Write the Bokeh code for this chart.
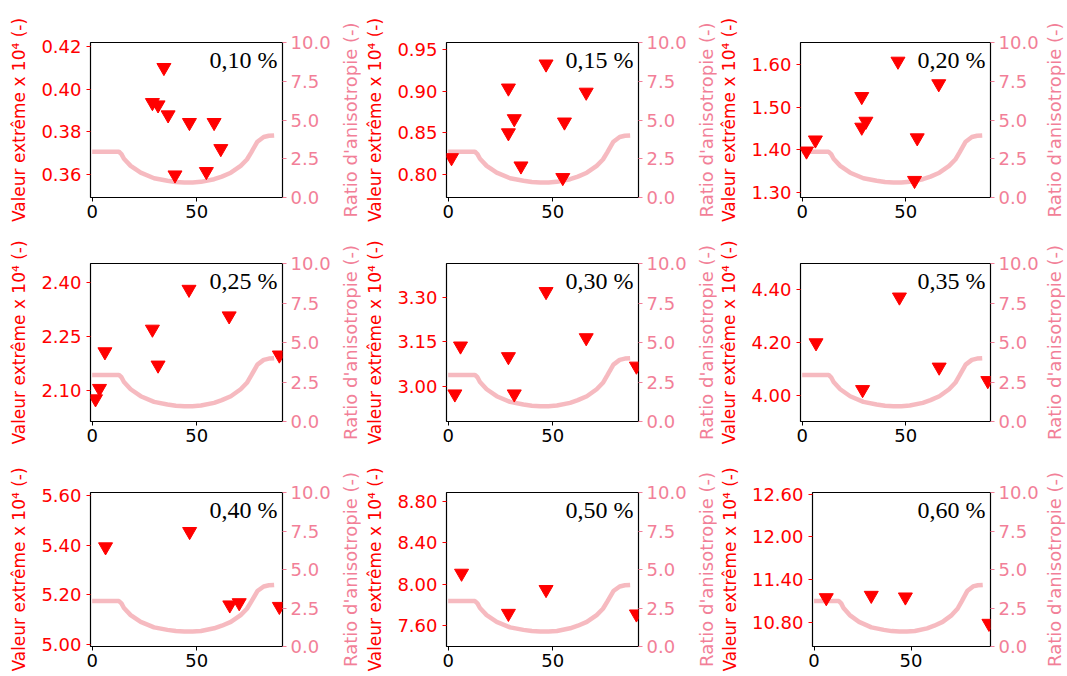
from bokeh.plotting import figure
from bokeh.models import Range1d, LinearAxis, FixedTicker, PrintfTickFormatter, Label
from bokeh.layouts import column, row
from bokeh.embed import file_html
from bokeh.resources import INLINE

# ---------------- data ----------------
titles = ["0,10 %", "0,15 %", "0,20 %", "0,25 %", "0,30 %", "0,35 %", "0,40 %", "0,50 %", "0,60 %"]

# anisotropy ratio curve (same for every panel)
curve_angle = [0, 12.8, 14.0, 15.2, 18.4, 23.2, 29.6, 36.0, 40.0, 44.0, 48.0, 52.0, 58.3, 62.0,
               66.3, 71.0, 74.0, 76.0, 79.0, 82.0, 84.5, 87.0]
curve_ratio = [2.95, 2.95, 2.8, 2.5, 2.04, 1.6, 1.24, 1.08, 1.0, 0.97, 0.97, 1.01, 1.18, 1.35,
               1.6, 2.04, 2.45, 2.9, 3.6, 3.9, 3.98, 4.0]

x_010 = [28.8, 31.5, 34.3, 36.3, 46.5, 58.3, 61.5, 39.6, 54.6]
y_010 = [0.3937, 0.3926, 0.4102, 0.3879, 0.3843, 0.3843, 0.3720, 0.3596, 0.3612]
x_015 = [1.6, 28.8, 28.8, 31.6, 34.8, 46.8, 66.0, 55.6, 54.8]
y_015 = [0.820, 0.904, 0.850, 0.867, 0.810, 0.933, 0.899, 0.863, 0.796]
x_020 = [2.1, 6.4, 28.8, 28.8, 30.8, 46.3, 66.0, 55.6, 54.3]
y_020 = [1.397, 1.423, 1.525, 1.453, 1.467, 1.608, 1.555, 1.428, 1.328]
x_025 = [1.6, 3.5, 6.1, 28.8, 31.5, 46.3, 65.5, 89.5]
y_025 = [2.077, 2.106, 2.208, 2.271, 2.171, 2.382, 2.308, 2.199]
x_030 = [3.2, 5.9, 28.8, 31.6, 46.8, 66.0, 90.0]
y_030 = [2.974, 3.136, 3.100, 2.974, 3.320, 3.164, 3.068]
x_035 = [6.7, 29.2, 47.0, 66.2, 89.7]
y_035 = [4.200, 4.023, 4.373, 4.108, 4.057]
x_040 = [6.4, 46.6, 65.8, 70.3, 89.5]
y_040 = [5.393, 5.455, 5.158, 5.167, 5.152]
x_050 = [6.4, 28.8, 46.8, 90.0]
y_050 = [8.105, 7.716, 7.947, 7.710]
x_060 = [6.3, 29.5, 47.1, 90.2]
y_060 = [11.149, 11.182, 11.159, 10.790]

xs = [x_010, x_015, x_020, x_025, x_030, x_035, x_040, x_050, x_060]
ys = [y_010, y_015, y_020, y_025, y_030, y_035, y_040, y_050, y_060]

left_ticks = [
    [0.36, 0.38, 0.40, 0.42],
    [0.80, 0.85, 0.90, 0.95],
    [1.30, 1.40, 1.50, 1.60],
    [2.10, 2.25, 2.40],
    [3.00, 3.15, 3.30],
    [4.00, 4.20, 4.40],
    [5.00, 5.20, 5.40, 5.60],
    [7.60, 8.00, 8.40, 8.80],
    [10.80, 11.40, 12.00, 12.60],
]
left_limits = [
    (0.349, 0.422), (0.772, 0.959), (1.288, 1.652),
    (2.014, 2.454), (2.881, 3.415), (3.9025, 4.50),
    (4.99, 5.613), (7.395, 8.888), (10.466, 12.623),
]
ratio_ticks = [0.0, 2.5, 5.0, 7.5, 10.0]
x_ticks = [0, 50, 100]

left_label = "Valeur extrême x 10\u2074 (-)"
right_label = "Ratio d'anisotropie (-)"

# ---------------- style / layout ----------------
RED = "#ff0000"
PINK = "#f27f98"
LINE = "#f08c96"
FONT = "DejaVu Sans"
TICK_FS = "18px"
LEFT_LABEL_FS = "17px"
RIGHT_LABEL_FS = "18px"

row_borders = [(42, 155, 32), (34, 158, 36), (35, 154, 28)]          # top, frame, bottom
col_borders = [(90, 192, 56, 22), (86, 192, 56, 22), (83, 191, 54, 20)]  # left, frame, right, label strip
X0, X1 = -0.8, 91.0


def make_panel(i):
    r, c = divmod(i, 3)
    bt, fh, bb = row_borders[r]
    bl, fw, br, strip = col_borders[c]
    if i == 8:
        bl, fw = 94, 180
    w = bl + fw + br
    h = bt + fh + bb
    lo, hi = left_limits[i]
    p = figure(width=w, height=h, output_backend="svg", toolbar_location=None,
               x_range=Range1d(X0, X1), y_range=Range1d(lo, hi),
               min_border_left=bl, min_border_right=br, min_border_top=bt, min_border_bottom=bb)
    p.extra_y_ranges = {"ratio": Range1d(0, 10)}
    p.grid.visible = False
    p.outline_line_color = "black"
    p.outline_line_width = 1.2
    p.background_fill_color = "white"
    p.border_fill_color = "white"

    # anisotropy curve
    p.line(curve_angle, curve_ratio, y_range_name="ratio", line_color=LINE,
           line_width=4.5, line_alpha=0.6)
    # extreme values
    p.scatter(xs[i], ys[i], marker="inverted_triangle", size=14,
              fill_color=RED, line_color=RED)

    # x axis
    xa = p.xaxis[0]
    xa.ticker = FixedTicker(ticks=x_ticks)
    xa.axis_line_color = None
    xa.major_tick_line_color = "black"
    xa.minor_tick_line_color = None
    xa.major_tick_out = 4
    xa.major_tick_in = 0
    xa.major_label_standoff = 3
    xa.major_label_text_font = FONT
    xa.major_label_text_font_size = TICK_FS
    xa.major_label_text_color = "black"

    # left axis
    ya = p.yaxis[0]
    ya.ticker = FixedTicker(ticks=left_ticks[i])
    ya.formatter = PrintfTickFormatter(format="%.2f")
    ya.axis_line_color = None
    ya.major_tick_line_color = RED
    ya.minor_tick_line_color = None
    ya.major_tick_out = 4
    ya.major_tick_in = 0
    ya.major_label_standoff = 5
    ya.major_label_text_font = FONT
    ya.major_label_text_font_size = TICK_FS
    ya.major_label_text_color = RED
    ya.axis_label = left_label
    ya.axis_label_text_color = RED
    ya.axis_label_text_font = FONT
    ya.axis_label_text_font_size = LEFT_LABEL_FS
    ya.axis_label_text_font_style = "normal"
    ya.axis_label_standoff = 9

    # right axis (ticks only; its title sits in the strip beside it)
    ra = LinearAxis(y_range_name="ratio", ticker=FixedTicker(ticks=ratio_ticks),
                    formatter=PrintfTickFormatter(format="%.1f"))
    ra.axis_line_color = None
    ra.major_tick_line_color = PINK
    ra.minor_tick_line_color = None
    ra.major_tick_out = 4
    ra.major_tick_in = 0
    ra.major_label_standoff = 4
    ra.major_label_text_font = FONT
    ra.major_label_text_font_size = TICK_FS
    ra.major_label_text_color = PINK
    p.add_layout(ra, "right")

    p.add_layout(Label(x=X1, y=hi, x_offset=-5, y_offset=-4, text=titles[i],
                       text_align="right", text_baseline="top",
                       text_font="Liberation Serif", text_font_size="24px",
                       text_color="black"))

    # narrow strip carrying the right-hand axis title, reading bottom to top
    s = figure(width=strip, height=h, output_backend="svg", toolbar_location=None,
               x_axis_type=None, x_range=Range1d(0, 1), y_range=Range1d(0, 10),
               min_border_left=strip - 1, min_border_right=0,
               min_border_top=bt, min_border_bottom=bb)
    s.grid.visible = False
    s.outline_line_color = None
    s.background_fill_color = "white"
    s.border_fill_color = "white"
    sa = s.yaxis[0]
    sa.ticker = FixedTicker(ticks=[])
    sa.axis_line_color = None
    sa.major_tick_line_color = None
    sa.minor_tick_line_color = None
    sa.major_tick_out = 0
    sa.major_label_text_font_size = "0px"
    sa.axis_label = right_label
    sa.axis_label_text_color = PINK
    sa.axis_label_text_font = FONT
    sa.axis_label_text_font_size = RIGHT_LABEL_FS
    sa.axis_label_text_font_style = "normal"
    sa.axis_label_standoff = 0
    return row(p, s)


panels = [make_panel(i) for i in range(9)]
layout = column(row(*panels[0:3]), row(*panels[3:6]), row(*panels[6:9]))

open("out.html", "w").write(file_html(layout, INLINE))
